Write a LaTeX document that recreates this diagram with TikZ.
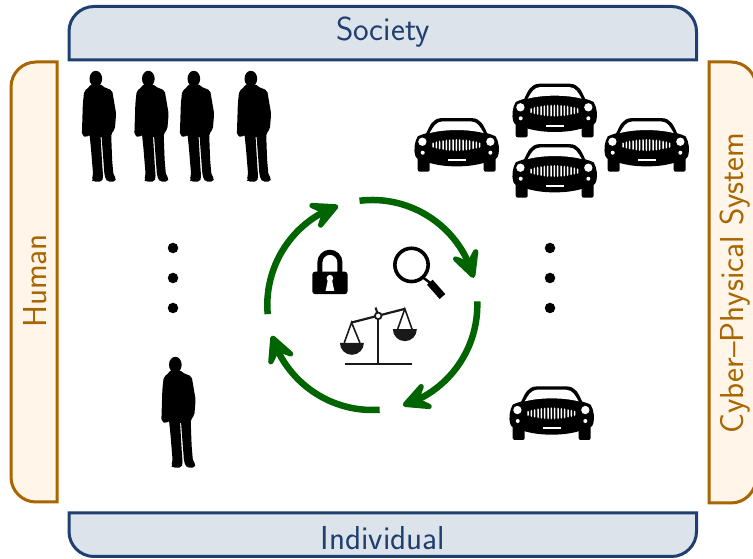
\documentclass[tikz,border=0pt]{standalone}
\usetikzlibrary{arrows.meta,bending}

\definecolor{navyline}{HTML}{1F3F6F}
\definecolor{navyfill}{HTML}{DCE3EB}
\definecolor{ochreline}{HTML}{A86500}
\definecolor{ochrefill}{HTML}{FFF5E8}
\definecolor{loopgreen}{HTML}{006400}

\tikzset{
  societybox/.style={draw=navyline,fill=navyfill,line width=3pt},
  sidebox/.style={draw=ochreline,fill=ochrefill,line width=3pt},
  boxtext/.style={font=\sffamily\fontsize{33.2}{40}\selectfont,inner sep=0pt},
  loopline/.style={draw=loopgreen,line width=6.5pt,
    -{Stealth[length=38pt,width=38pt,inset=17pt,line width=5.5pt,round]}},
  dotmark/.style={circle,fill=black,inner sep=0pt,minimum size=10.5pt},
  personfig/.pic={
    \fill[black,x=.333pt,y=-.333pt,shift={(-87.5,-362)}] (78,55) ellipse (19 and 24);
    \fill[black,x=.333pt,y=-.333pt,shift={(-87.5,-362)},rounded corners=2pt]
      (64,70)--(58,80)--(43,92)--(39,130)--(36,224)--(50,232)--(59,222)--(63,260)
      --(70,345)--(65,358)--(70,364)--(96,364)--(100,352)--(97,310)--(92,225)--(95,225)
      --(104,345)--(108,356)--(113,364)--(136,364)--(140,354)--(131,345)--(127,300)
      --(124,220)--(135,207)--(139,160)--(127,90)--(98,78)--(92,70)--cycle;
  },
  carfig/.pic={
    \begin{scope}[x=.333pt,y=-.333pt,shift={(-155,-290)}]
    % body
    \fill[black] (38,184) .. controls (60,172) and (110,164) .. (155,164)
      .. controls (200,164) and (250,172) .. (272,184)
      .. controls (282,200) and (284,225) .. (280,240) .. controls (278,250) and (268,256) .. (255,258)
      .. controls (220,270) and (190,274) .. (155,274)
      .. controls (120,274) and (90,270) .. (55,258)
      .. controls (42,256) and (32,250) .. (30,240)
      .. controls (26,225) and (28,200) .. (38,184)--cycle;
    % wheels
    \fill[black,rounded corners=2pt] (38,245) rectangle (74,290);
    \fill[black,rounded corners=2pt] (236,245) rectangle (272,290);
    % roof and windscreen
    \fill[black] (62,178) .. controls (75,150) and (82,130) .. (110,129)--(200,129)
      .. controls (228,130) and (235,150) .. (248,178)--cycle;
    \fill[white] (74,174) .. controls (85,155) and (92,140) .. (112,139)--(198,139)
      .. controls (218,140) and (225,155) .. (236,174) .. controls (190,162) and (120,162) .. (74,174)--cycle;
    % lamps
    \fill[white] (52,200) circle (12.5);
    \fill[white] (256,200) circle (12.5);
    \fill[white] (53,233) circle (6);
    \fill[white] (256,233) circle (6);
    % grille
    \foreach \barpos in {-7,...,7}{
      \pgfmathsetmacro{\barh}{18-\barpos*\barpos*0.2}
      \fill[white,rounded corners=1pt] ({154+\barpos*10-2.2},{210-\barh})
        rectangle ({154+\barpos*10+2.2},{210+\barh});
    }
    % plate
    \fill[white] (128,252) rectangle (182,258);
    \end{scope}
  }
}

\begin{document}
\begin{tikzpicture}[x=1pt,y=1pt]
\useasboundingbox (0,0) rectangle (753,559);

% side and top boxes
\draw[societybox] (69,499) [rounded corners=25pt] -- (69,552.5) -- (696.5,552.5) [sharp corners] -- (696.5,499) -- cycle;
\draw[societybox] (69,46) [rounded corners=25pt] -- (69,2.5) -- (696.5,2.5) [sharp corners] -- (696.5,46) -- cycle;
\draw[sidebox] (57,497) [rounded corners=25pt] -- (11,497) -- (11,57) [sharp corners] -- (57,57) -- cycle;
\draw[sidebox] (709,497) [rounded corners=25pt] -- (756,497) -- (756,56) [sharp corners] -- (709,56) -- cycle;

\node[boxtext,text=navyline] (society) at (383,527) {Society};
\node[boxtext,text=navyline] (individual) at (383,21) {Individual};
\node[boxtext,text=ochreline,rotate=90] (human) at (35,278) {Human};
\node[boxtext,text=ochreline,rotate=90] (cps) at (735,276) {Cyber--Physical System};

% people
\pic at (99,378) {personfig};
\pic at (151.5,378) {personfig};
\pic at (197,378) {personfig};
\pic at (254,378) {personfig};
\pic at (178.5,92) {personfig};

\node[dotmark] (h1) at (173,311) {};
\node[dotmark] (h2) at (173,281) {};
\node[dotmark] (h3) at (173,251) {};

% cars
\pic at (456.7,387.3) {carfig};
\pic at (554.7,421.7) {carfig};
\pic at (554.7,361.3) {carfig};
\pic at (646.7,387.3) {carfig};
\pic at (551.7,119) {carfig};

\node[dotmark] (c1) at (550,311) {};
\node[dotmark] (c2) at (550,281) {};
\node[dotmark] (c3) at (550,251) {};

% loop
\coordinate (hub) at (372.3,254);
\draw[loopline] ([shift={(97:105)}]hub) arc (97:15:105);
\draw[loopline] ([shift={(2:105)}]hub) arc (2:-73:105);
\draw[loopline] ([shift={(274:105)}]hub) arc (274:197:105);
\draw[loopline] ([shift={(185:105)}]hub) arc (185:109:105);

% icons, in units of the zoomed crop
\begin{scope}[shift={(255,374)},x=.333pt,y=-.333pt]
% lock
\draw[black,line width=5pt] (195,265)--(195,232) arc (180:360:30)--(255,265);
\fill[black,rounded corners=3pt] (172,260) rectangle (278,328);
\fill[white] (225,280) circle (10);
\fill[white] (219,284)--(231,284)--(238,318)--(212,318)--cycle;
% magnifier
\draw[black,line width=3.6pt] (470,240) circle (50);
\draw[black,line width=2.5pt] (505,278)--(530,297);
\draw[black,line width=7.5pt] (525,292)--(563,335);
% scales
\draw[black!90,line width=2.2pt] (290,413)--(450,372);
\draw[black!90,line width=2pt] (362,368)--(370,392);
\draw[black!90,line width=2.2pt] (370,393)--(370,535);
\draw[black!90,line width=2.2pt] (270,537)--(470,537);
\draw[black!90,line width=1.6pt] (268,474)--(290,413)--(315,474);
\draw[black!90,line width=1.6pt] (428,434)--(450,372)--(472,434);
\fill[black!90] (255,474) arc (180:360:36 and -36)--cycle;
\fill[black!90] (414,433) arc (180:360:36 and -36)--cycle;
\draw[black!90,fill=white,line width=1.8pt] (370,393) circle (10);
\end{scope}

\end{tikzpicture}
\end{document}
